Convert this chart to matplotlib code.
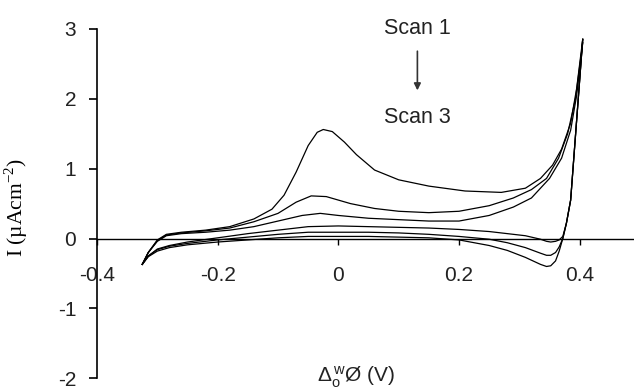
import matplotlib
matplotlib.use("Agg")
import matplotlib.pyplot as plt

# forward scans (anodic direction)
s1_fwd_x = [-0.325, -0.315, -0.30, -0.285, -0.26, -0.22, -0.18, -0.14, -0.11, -0.09, -0.07, -0.05,
            -0.035, -0.025, -0.01, 0.01, 0.03, 0.06, 0.10, 0.15, 0.21, 0.27, 0.31, 0.335, 0.355,
            0.37, 0.385, 0.395, 0.405]
s1_fwd_y = [-0.37, -0.2, -0.02, 0.06, 0.09, 0.12, 0.17, 0.28, 0.42, 0.62, 0.95, 1.33,
            1.52, 1.56, 1.53, 1.38, 1.2, 0.98, 0.84, 0.75, 0.68, 0.66, 0.72, 0.86, 1.05,
            1.28, 1.65, 2.15, 2.85]

s2_fwd_x = [-0.325, -0.315, -0.30, -0.285, -0.26, -0.22, -0.18, -0.14, -0.10, -0.07, -0.045, -0.02,
            0.02, 0.06, 0.10, 0.15, 0.20, 0.25, 0.29, 0.32, 0.345, 0.365, 0.38, 0.393, 0.405]
s2_fwd_y = [-0.37, -0.2, -0.03, 0.05, 0.08, 0.11, 0.15, 0.24, 0.36, 0.52, 0.61, 0.6,
            0.5, 0.43, 0.39, 0.37, 0.39, 0.47, 0.58, 0.7, 0.86, 1.15, 1.5, 2.0, 2.8]

s3_fwd_x = [-0.325, -0.315, -0.30, -0.285, -0.26, -0.22, -0.18, -0.14, -0.10, -0.06, -0.03, 0.0,
            0.05, 0.10, 0.15, 0.20, 0.25, 0.29, 0.32, 0.35, 0.37, 0.385, 0.395, 0.405]
s3_fwd_y = [-0.37, -0.2, -0.04, 0.04, 0.07, 0.09, 0.12, 0.17, 0.25, 0.33, 0.36, 0.33,
            0.29, 0.27, 0.25, 0.25, 0.33, 0.45, 0.58, 0.86, 1.15, 1.55, 2.05, 2.8]

# reverse scans (cathodic direction)
rev_x = [0.405, 0.395, 0.385, 0.378, 0.372, 0.366, 0.36, 0.352, 0.345, 0.335, 0.31, 0.28, 0.25,
         0.20, 0.15, 0.10, 0.05, 0.0, -0.05, -0.10, -0.15, -0.20, -0.25, -0.28, -0.30, -0.315, -0.325]
s1_rev_y = [2.85, 1.7, 0.55, 0.22, 0.0, -0.18, -0.32, -0.39, -0.40, -0.37, -0.27, -0.17, -0.10,
            -0.02, 0.01, 0.02, 0.03, 0.03, 0.03, 0.01, -0.02, -0.05, -0.09, -0.13, -0.18, -0.26, -0.37]
s2_rev_y = [2.85, 1.7, 0.55, 0.22, 0.0, -0.12, -0.2, -0.24, -0.24, -0.21, -0.13, -0.06, -0.01,
            0.03, 0.06, 0.08, 0.09, 0.09, 0.09, 0.06, 0.02, -0.02, -0.07, -0.11, -0.16, -0.25, -0.37]
s3_rev_y = [2.85, 1.7, 0.55, 0.22, 0.03, -0.02, -0.04, -0.05, -0.04, -0.01, 0.04, 0.07, 0.10,
            0.13, 0.15, 0.16, 0.17, 0.18, 0.17, 0.12, 0.07, 0.01, -0.05, -0.10, -0.15, -0.25, -0.37]

x_ticks = [-0.4, -0.2, 0, 0.2, 0.4]
x_ticklabels = ["-0.4", "-0.2", "0", "0.2", "0.4"]
y_ticks = [-2, -1, 0, 1, 2, 3]
y_ticklabels = ["-2", "-1", "0", "1", "2", "3"]


def main():
    plt.rcParams["font.family"] = ["Liberation Sans", "DejaVu Sans"]
    plt.rcParams["axes.unicode_minus"] = False
    fig = plt.figure(figsize=(6.34, 3.9), dpi=100)
    ax = fig.add_axes([0.153, 0.03, 0.847, 0.896])

    ax.plot(s1_fwd_x, s1_fwd_y, color="black", lw=0.9)
    ax.plot(s2_fwd_x, s2_fwd_y, color="black", lw=0.9)
    ax.plot(s3_fwd_x, s3_fwd_y, color="black", lw=0.9)
    for y in (s1_rev_y, s2_rev_y, s3_rev_y):
        ax.plot(rev_x, y, color="black", lw=0.9)

    ax.set_xlim(-0.4, 0.49)
    ax.set_ylim(-2, 3)

    ax.spines["top"].set_visible(False)
    ax.spines["right"].set_visible(False)
    ax.spines["bottom"].set_position(("data", 0))
    ax.spines["left"].set_linewidth(1.2)
    ax.spines["bottom"].set_linewidth(1.0)

    ax.set_xticks(x_ticks)
    ax.set_xticklabels(x_ticklabels)
    ax.set_yticks(y_ticks)
    ax.set_yticklabels(y_ticklabels)
    ax.tick_params(axis="x", direction="out", length=4, width=1, pad=16,
                   labelsize=15, colors="black")
    ax.tick_params(axis="y", direction="out", length=6, width=1.2, pad=9,
                   labelsize=15, colors="black")
    for lab in ax.get_xticklabels() + ax.get_yticklabels():
        lab.set_color("#222222")

    ax.set_ylabel(r"I (µAcm$^{\mathregular{-2}}$)", family="Liberation Serif",
                  fontsize=15.5, labelpad=10)
    ax.yaxis.set_label_coords(-0.125, 0.49)

    fig.text(356 / 634, 1 - 377 / 390, r"$\mathregular{\Delta_o^{\,w}}$Ø (V)",
             ha="center", va="center", fontsize=15, color="#222222")

    ax.text(0.131, 3.0, "Scan 1", ha="center", va="center", fontsize=15.5, color="#222222")
    ax.text(0.131, 1.73, "Scan 3", ha="center", va="center", fontsize=15.5, color="#222222")
    ax.annotate("", xy=(0.131, 2.08), xytext=(0.131, 2.72),
                arrowprops=dict(arrowstyle="-|>", color="#333333", lw=1.2,
                                mutation_scale=10))

    fig.savefig("out.png", dpi=100)


if __name__ == "__main__":
    main()
